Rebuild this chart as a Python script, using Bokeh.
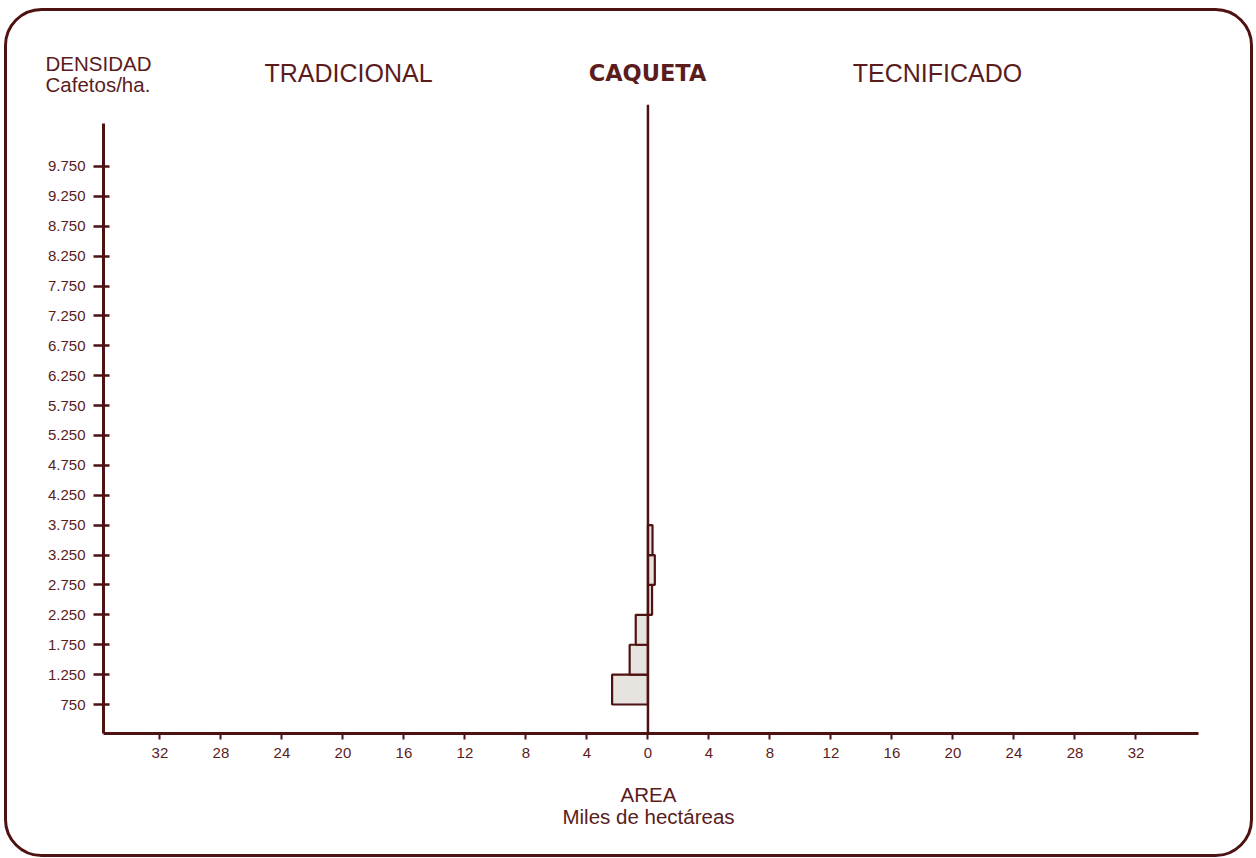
from bokeh.plotting import figure
from bokeh.models import (ColumnDataSource, FixedTicker, BoxAnnotation, Range1d)
from bokeh.core.properties import value
from bokeh.embed import file_html
from bokeh.resources import INLINE

# ---------------- data ----------------
class_bottom = [750, 1250, 1750, 2250, 2750, 3250]
class_top = [1250, 1750, 2250, 2750, 3250, 3750]
tradicional = [2.35, 1.2, 0.8, 0.0, 0.0, 0.0]      # miles de ha (left side)
tecnificado = [0.0, 0.0, 0.0, 0.27, 0.45, 0.3]    # miles de ha (right side)

y_ticks = [750, 1250, 1750, 2250, 2750, 3250, 3750, 4250, 4750, 5250, 5750,
           6250, 6750, 7250, 7750, 8250, 8750, 9250, 9750]
y_tick_labels = ["750", "1.250", "1.750", "2.250", "2.750", "3.250", "3.750",
                 "4.250", "4.750", "5.250", "5.750", "6.250", "6.750", "7.250",
                 "7.750", "8.250", "8.750", "9.250", "9.750"]
x_ticks = [-32, -28, -24, -20, -16, -12, -8, -4, 0, 4, 8, 12, 16, 20, 24, 28, 32]
x_tick_labels = [str(abs(t)) for t in x_ticks]

y_axis_title = ["DENSIDAD", "Cafetos/ha."]
side_titles = ["TRADICIONAL", "TECNIFICADO"]
main_title = "CAQUETA"
x_axis_title = ["AREA", "Miles de hectáreas"]

# ---------------- style ----------------
MAROON = "#4e1212"
TEXT = "#5a1c1c"
BAR_FILL = "#e7e3df"
FONT = "Liberation Sans"

W, H = 1256, 858
FL, FR, FT, FB = 103, 1198, 104, 733   # frame edges in page pixels

p = figure(width=W, height=H, output_backend="svg", toolbar_location=None,
           x_range=Range1d(-35.7, 36.1), y_range=Range1d(265, 10787),
           min_border_left=FL, min_border_right=W - FR,
           min_border_top=FT, min_border_bottom=H - FB,
           background_fill_color="white", border_fill_color="white")
p.outline_line_color = None
p.grid.visible = False

xa = p.xaxis[0]
xa.ticker = FixedTicker(ticks=x_ticks)
xa.major_label_overrides = {t: l for t, l in zip(x_ticks, x_tick_labels)}
xa.axis_line_color = MAROON
xa.axis_line_width = 3
xa.major_tick_line_color = MAROON
xa.major_tick_line_width = 2
xa.major_tick_in = 0
xa.major_tick_out = 6
xa.minor_tick_line_color = None
xa.major_label_standoff = 8
xa.major_label_text_font = FONT
xa.major_label_text_font_size = "15px"
xa.major_label_text_color = TEXT

ya = p.yaxis[0]
ya.ticker = FixedTicker(ticks=y_ticks)
ya.major_label_overrides = {t: l for t, l in zip(y_ticks, y_tick_labels)}
ya.bounds = (265, 10470)
ya.axis_line_color = MAROON
ya.axis_line_width = 3
ya.major_tick_line_color = MAROON
ya.major_tick_line_width = 2.5
ya.major_tick_in = 6
ya.major_tick_out = 10
ya.minor_tick_line_color = None
ya.major_label_standoff = 8
ya.major_label_text_font = FONT
ya.major_label_text_font_size = "15px"
ya.major_label_text_color = TEXT

# bars (only non-empty classes)
for vals, sign in ((tradicional, -1), (tecnificado, 1)):
    idx = [i for i, v in enumerate(vals) if v > 0]
    src = ColumnDataSource(dict(
        left=[min(0, sign * vals[i]) for i in idx],
        right=[max(0, sign * vals[i]) for i in idx],
        bottom=[class_bottom[i] for i in idx],
        top=[class_top[i] for i in idx]))
    p.quad(left="left", right="right", bottom="bottom", top="top", source=src,
           fill_color=BAR_FILL, line_color=MAROON, line_width=2.2)

# central dividing line
p.segment(x0=[0], x1=[0], y0=[265], y1=[10787], line_color=MAROON, line_width=2.5)

# ---------------- overlay for texts and card border ----------------
o = figure(width=W, height=H, output_backend="svg", toolbar_location=None,
           x_range=Range1d(0, W), y_range=Range1d(H, 0),
           x_axis_location=None, y_axis_location=None, min_border=0,
           background_fill_color=None, border_fill_color=None,
           styles={"position": "absolute", "left": "0px", "top": "0px"})
o.outline_line_color = None
o.grid.visible = False

def txt(texts, xs, ys, size, align, font=FONT, style="normal"):
    o.text(x=xs, y=ys, text=texts, text_font=value(font), text_font_size=size,
           text_color=TEXT, text_align=align, text_baseline="alphabetic",
           text_font_style=style)

txt(y_axis_title, [45, 45], [63, 84], "20.5px", "left")
txt(side_titles, [348, 937], [72, 72], "25px", "center")
txt([main_title], [647], [72], "22.5px", "center", font="DejaVu Sans", style="bold")
txt(x_axis_title, [648, 648], [794, 816], "20.5px", "center")

card = BoxAnnotation(left=5, right=1251, top=9, bottom=855,
                     fill_alpha=0, line_color=MAROON, line_alpha=1.0,
                     line_width=3, border_radius=36)
o.add_layout(card)

open("out.html", "w").write(file_html([p, o], INLINE))
